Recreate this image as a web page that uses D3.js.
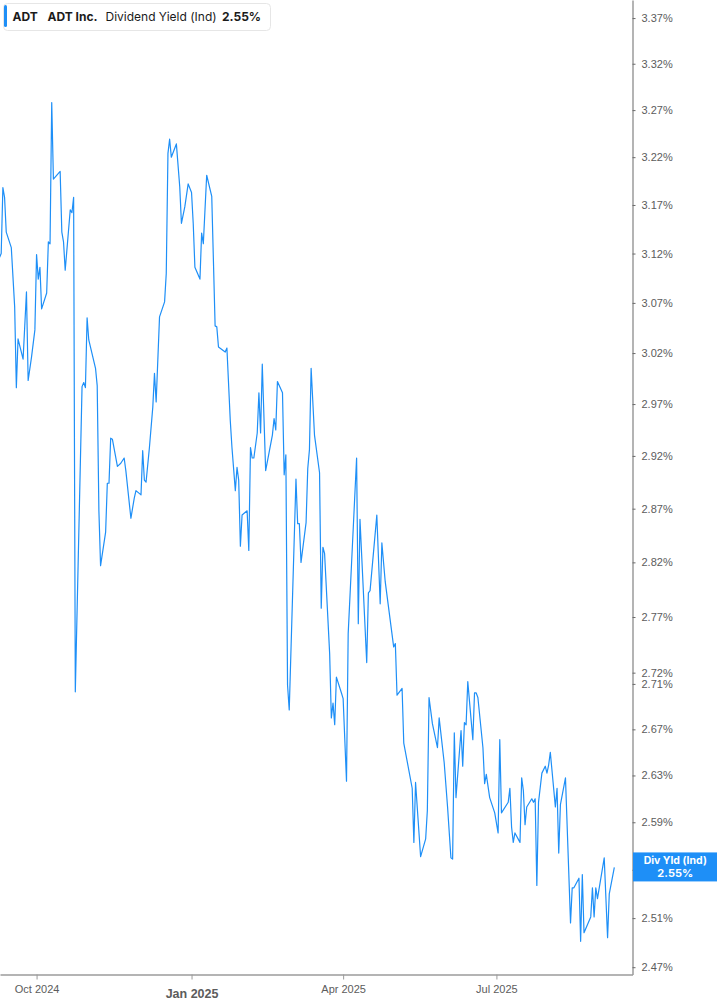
<!DOCTYPE html>
<html>
<head>
<meta charset="utf-8">
<script src="https://cdn.jsdelivr.net/npm/d3@7"></script>
<style>
  html, body { margin: 0; padding: 0; background: #fff; }
  svg { display: block; font-family: Inter, "Noto Sans", sans-serif; }
</style>
</head>
<body>
<div id="chart"></div>
<script>
// daily dividend yield (indicated)
const dates = [
  "2024-09-09","2024-09-10","2024-09-11","2024-09-12","2024-09-13","2024-09-16","2024-09-18","2024-09-19","2024-09-20","2024-09-23",
  "2024-09-25","2024-09-26","2024-09-28","2024-09-30","2024-10-01","2024-10-02","2024-10-03","2024-10-04","2024-10-07","2024-10-08",
  "2024-10-09","2024-10-10","2024-10-11","2024-10-15","2024-10-16","2024-10-17","2024-10-18","2024-10-21","2024-10-22","2024-10-23",
  "2024-10-24","2024-10-28","2024-10-29","2024-10-30","2024-10-31","2024-11-01","2024-11-05","2024-11-06","2024-11-07","2024-11-08",
  "2024-11-11","2024-11-12","2024-11-13","2024-11-14","2024-11-15","2024-11-18","2024-11-20","2024-11-22","2024-11-23","2024-11-26",
  "2024-11-28","2024-11-29","2024-12-02","2024-12-03","2024-12-04","2024-12-05","2024-12-07","2024-12-09","2024-12-10","2024-12-11",
  "2024-12-13","2024-12-16","2024-12-17","2024-12-18","2024-12-19","2024-12-20","2024-12-23","2024-12-25","2024-12-26","2024-12-28",
  "2024-12-30","2025-01-01","2025-01-02","2025-01-03","2025-01-06","2025-01-07","2025-01-08","2025-01-10","2025-01-13","2025-01-15",
  "2025-01-16","2025-01-17","2025-01-21","2025-01-22","2025-01-24","2025-01-25","2025-01-27","2025-01-28","2025-01-29","2025-01-30",
  "2025-01-31","2025-02-03","2025-02-04","2025-02-05","2025-02-06","2025-02-07","2025-02-09","2025-02-10","2025-02-11","2025-02-12",
  "2025-02-14","2025-02-16","2025-02-18","2025-02-19","2025-02-20","2025-02-21","2025-02-24","2025-02-25","2025-02-26","2025-02-27",
  "2025-02-28","2025-03-04","2025-03-05","2025-03-06","2025-03-07","2025-03-10","2025-03-11","2025-03-12","2025-03-13","2025-03-15",
  "2025-03-18","2025-03-19","2025-03-20","2025-03-21","2025-03-24","2025-03-25","2025-03-26","2025-03-27","2025-03-28","2025-03-31",
  "2025-04-01","2025-04-03","2025-04-04","2025-04-06","2025-04-09","2025-04-10","2025-04-11","2025-04-15","2025-04-16","2025-04-17",
  "2025-04-21","2025-04-23","2025-04-24","2025-04-26","2025-05-01","2025-05-02","2025-05-03","2025-05-06","2025-05-07","2025-05-12",
  "2025-05-13","2025-05-14","2025-05-17","2025-05-20","2025-05-21","2025-05-22","2025-05-24","2025-05-27","2025-05-28","2025-05-31",
  "2025-06-02","2025-06-04","2025-06-05","2025-06-06","2025-06-07","2025-06-10","2025-06-11","2025-06-12","2025-06-13","2025-06-14",
  "2025-06-17","2025-06-18","2025-06-19","2025-06-20","2025-06-23","2025-06-24","2025-06-25","2025-06-27","2025-06-30","2025-07-02",
  "2025-07-03","2025-07-04","2025-07-08","2025-07-09","2025-07-10","2025-07-11","2025-07-12","2025-07-15","2025-07-16","2025-07-17",
  "2025-07-18","2025-07-19","2025-07-22","2025-07-23","2025-07-24","2025-07-25","2025-07-26","2025-07-28","2025-07-30","2025-07-31",
  "2025-08-01","2025-08-02","2025-08-05","2025-08-06","2025-08-07","2025-08-08","2025-08-11","2025-08-14","2025-08-15","2025-08-16",
  "2025-08-19","2025-08-20","2025-08-21","2025-08-22","2025-08-26","2025-08-27","2025-08-28","2025-08-29","2025-08-30","2025-09-03",
  "2025-09-05","2025-09-06","2025-09-09"
];

const yields = [
  3.116, 3.120, 3.188, 3.178, 3.142, 3.126, 3.066, 2.986, 3.034, 3.014,
  3.081, 2.993, 3.016, 3.043, 3.119, 3.094, 3.106, 3.064, 3.080, 3.132,
  3.130, 3.278, 3.197, 3.205, 3.142, 3.132, 3.103, 3.165, 3.162, 3.178,
  2.703, 2.987, 2.991, 2.986, 3.055, 3.033, 3.005, 2.988, 2.868, 2.817,
  2.848, 2.894, 2.894, 2.937, 2.936, 2.910, 2.913, 2.918, 2.906, 2.861,
  2.880, 2.887, 2.883, 2.925, 2.897, 2.895, 2.928, 2.967, 3.000, 2.972,
  3.056, 3.071, 3.100, 3.224, 3.239, 3.220, 3.234, 3.189, 3.151, 3.168,
  3.192, 3.183, 3.151, 3.106, 3.094, 3.141, 3.130, 3.201, 3.179, 3.047,
  3.046, 3.026, 3.021, 3.025, 2.954, 2.928, 2.887, 2.909, 2.897, 2.835,
  2.864, 2.868, 2.831, 2.928, 2.918, 2.918, 2.942, 2.981, 2.942, 3.009,
  2.906, 2.923, 2.940, 2.956, 2.945, 2.992, 2.981, 2.902, 2.921, 2.709,
  2.687, 2.898, 2.856, 2.856, 2.820, 2.857, 2.908, 2.926, 3.005, 2.940,
  2.904, 2.778, 2.834, 2.828, 2.737, 2.680, 2.693, 2.674, 2.716, 2.702,
  2.697, 2.625, 2.755, 2.819, 2.918, 2.764, 2.860, 2.729, 2.792, 2.794,
  2.864, 2.782, 2.838, 2.802, 2.743, 2.746, 2.700, 2.706, 2.658, 2.619,
  2.573, 2.624, 2.561, 2.576, 2.600, 2.698, 2.675, 2.654, 2.680, 2.641,
  2.603, 2.560, 2.559, 2.667, 2.611, 2.669, 2.638, 2.676, 2.674, 2.712,
  2.661, 2.702, 2.702, 2.698, 2.654, 2.623, 2.631, 2.611, 2.598, 2.581,
  2.661, 2.598, 2.607, 2.619, 2.586, 2.573, 2.581, 2.573, 2.628, 2.617,
  2.588, 2.603, 2.610, 2.607, 2.610, 2.537, 2.607, 2.632, 2.638, 2.632,
  2.639, 2.650, 2.603, 2.619, 2.564, 2.605, 2.628, 2.506, 2.535, 2.535,
  2.543, 2.491, 2.546, 2.498, 2.511, 2.535, 2.511, 2.535, 2.526, 2.560,
  2.494, 2.530, 2.552
];

const yTicks = [3.37, 3.32, 3.27, 3.22, 3.17, 3.12, 3.07, 3.02, 2.97, 2.92, 2.87,
  2.82, 2.77, 2.72, 2.71, 2.67, 2.63, 2.59, 2.55, 2.51, 2.47];
const xTicks = ["2024-10-01", "2025-01-01", "2025-04-01", "2025-07-01"];
const yDomain = [2.4641, 3.390];
const xDomain = ["2024-09-09T07:00", "2025-09-19T19:00"];

const header = { ticker: "ADT", name: "ADT Inc.", metric: "Dividend Yield (Ind)", last: "2.55%" };
const lastLabel = "Div Yld (Ind)";

const W = 717, H = 1005;
const plotW = 632.5, plotH = 974.5;
const BLUE = "#1e8ff7";
const AXIS = "#9b9b9b";
const TEXT = "#5c5c5c";

const parseDay = d3.timeParse("%Y-%m-%d");
const parseTime = d3.timeParse("%Y-%m-%dT%H:%M");
const data = dates.map((d, i) => ({ date: parseDay(d), value: yields[i] }));

const svg = d3.select("#chart")
  .append("svg")
  .attr("width", W)
  .attr("height", H);

const x = d3.scaleTime()
  .domain(xDomain.map(parseTime))
  .range([0, plotW]);

const y = d3.scaleLog()
  .domain(yDomain)
  .range([plotH, 0]);

// line
svg.append("path")
  .datum(data)
  .attr("fill", "none")
  .attr("stroke", BLUE)
  .attr("stroke-width", 1.2)
  .attr("stroke-linejoin", "round")
  .attr("d", d3.line().x(d => x(d.date)).y(d => y(d.value)));

// bottom axis
const axisX = d3.axisBottom(x)
  .tickValues(xTicks.map(parseDay))
  .tickSize(5)
  .tickSizeOuter(0)
  .tickPadding(6)
  .tickFormat(d3.timeFormat("%b %Y"));

const gx = svg.append("g")
  .attr("transform", `translate(0, ${plotH})`)
  .call(axisX);
gx.select(".domain").attr("stroke", AXIS).attr("stroke-width", 1.5);
gx.selectAll(".tick line").attr("stroke", AXIS);
gx.selectAll(".tick text")
  .attr("fill", TEXT)
  .attr("font-size", d => d.getMonth() === 0 ? 12.5 : 11)
  .attr("font-weight", d => d.getMonth() === 0 ? 700 : 400)
  .attr("dy", d => d.getMonth() === 0 ? "1.0em" : "0.71em");

// right axis
const last = data[data.length - 1];
const axisY = d3.axisRight(y)
  .tickValues(yTicks)
  .tickSize(3)
  .tickSizeOuter(0)
  .tickPadding(6)
  .tickFormat(d => d.toFixed(2) + "%");

const gy = svg.append("g")
  .attr("transform", `translate(${plotW}, 0)`)
  .call(axisY);
gy.select(".domain").attr("stroke", AXIS).attr("stroke-width", 1.5);
gy.selectAll(".tick line").attr("stroke", "#6a6a6a");
gy.selectAll(".tick text")
  .attr("fill", TEXT)
  .attr("font-size", 11);
// the tick label under the last-value flag is hidden by it
gy.selectAll(".tick text")
  .filter(d => d.toFixed(2) === last.value.toFixed(2))
  .remove();

// last value flag
const flag = svg.append("g")
  .attr("transform", `translate(${plotW + 0.5}, ${y(last.value) - 15})`);
flag.append("rect")
  .attr("width", W - plotW)
  .attr("height", 29)
  .attr("fill", BLUE);
flag.append("text")
  .attr("x", (W - plotW) / 2)
  .attr("y", 12)
  .attr("text-anchor", "middle")
  .attr("fill", "#fff")
  .attr("font-size", 10.5)
  .attr("font-weight", 700)
  .text(lastLabel);
flag.append("text")
  .attr("x", (W - plotW) / 2)
  .attr("y", 24.5)
  .attr("text-anchor", "middle")
  .attr("fill", "#fff")
  .attr("font-size", 11)
  .attr("font-weight", 700)
  .text(d3.format(".2f")(last.value) + "%");

// legend header
const hd = svg.append("g");
hd.append("rect")
  .attr("x", 3.5).attr("y", 3.5)
  .attr("width", 267).attr("height", 27)
  .attr("rx", 4)
  .attr("fill", "#fff")
  .attr("stroke", "#e6e6e6");
hd.append("rect")
  .attr("x", 4).attr("y", 5)
  .attr("width", 3).attr("height", 22)
  .attr("rx", 1.5)
  .attr("fill", BLUE);
const parts = [
  { t: header.ticker, x: 12.5, w: 700 },
  { t: header.name, x: 47.5, w: 700 },
  { t: header.metric, x: 105.5, w: 400 },
  { t: header.last, x: 222, w: 700 }
];
hd.selectAll("text.hd")
  .data(parts)
  .enter().append("text")
  .attr("class", "hd")
  .attr("x", d => d.x)
  .attr("y", 21)
  .attr("fill", "#1b1b1b")
  .attr("font-size", 12)
  .attr("font-weight", d => d.w)
  .text(d => d.t);
</script>
</body>
</html>
